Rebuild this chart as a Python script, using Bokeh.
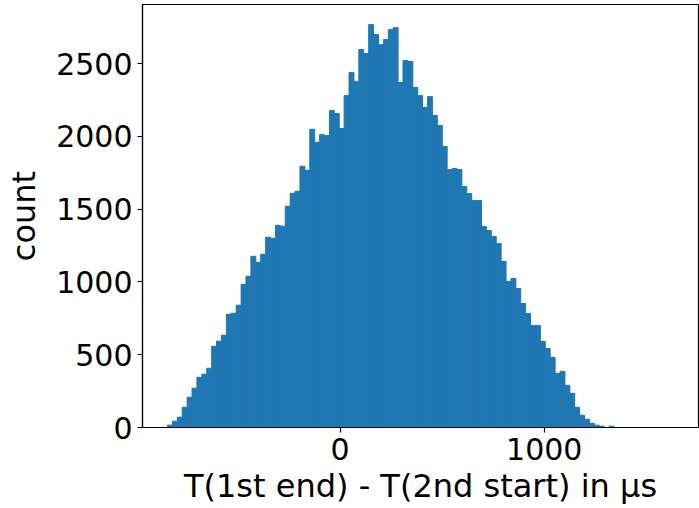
from bokeh.plotting import figure
from bokeh.models import Range1d, FixedTicker, ColumnDataSource
from bokeh.embed import file_html
from bokeh.resources import INLINE

# histogram data
bin_start = -844.6      # µs, left edge of first bin
bin_width = 24.02       # µs
counts = [16, 43, 71, 139, 208, 270, 345, 366, 407, 558,
          593, 634, 778, 785, 840, 984, 1039, 1176, 1135, 1190,
          1307, 1300, 1389, 1383, 1520, 1609, 1623, 1795, 1767, 2049,
          1959, 2012, 2005, 2177, 2157, 2054, 2280, 2438, 2376, 2596,
          2569, 2768, 2699, 2630, 2665, 2733, 2747, 2370, 2521, 2514,
          2335, 2280, 2198, 2273, 2143, 2074, 1930, 1772, 1779, 1772,
          1655, 1607, 1559, 1559, 1380, 1353, 1312, 1264, 1140, 1003,
          1023, 955, 852, 783, 700, 700, 591, 543, 481, 372,
          386, 290, 235, 139, 84, 57, 29, 16, 9, 0,
          9]
x_ticks = [0, 1000]
y_ticks = [0, 500, 1000, 1500, 2000, 2500]
x_label = "T(1st end) - T(2nd start) in µs"
y_label = "count"

left = [bin_start + i * bin_width for i in range(len(counts))]
right = [l + bin_width for l in left]
src = ColumnDataSource(dict(left=left, right=right, top=counts, bottom=[0] * len(counts)))

p = figure(width=699, height=508, output_backend="svg", toolbar_location=None,
           x_range=Range1d(-967, 1755), y_range=Range1d(0, 2906),
           min_border_left=142, min_border_right=1, min_border_top=4, min_border_bottom=81)

p.quad(left="left", right="right", top="top", bottom="bottom", source=src,
       fill_color="#1f77b4", line_color="#1f77b4", line_width=1)

p.xgrid.visible = False
p.ygrid.visible = False
p.outline_line_color = "black"
p.outline_line_width = 1.2
p.outline_line_alpha = 1

for ax in (p.xaxis[0], p.yaxis[0]):
    ax.axis_line_color = "black"
    ax.axis_line_width = 1.2
    ax.major_tick_line_color = "black"
    ax.major_tick_line_width = 1.2
    ax.major_tick_out = 5
    ax.major_tick_in = 0
    ax.minor_tick_line_color = None
    ax.major_label_text_font = "DejaVu Sans"
    ax.major_label_text_font_size = "30px"
    ax.major_label_text_color = "black"
    ax.major_label_standoff = 5
    ax.axis_label_text_font = "DejaVu Sans"
    ax.axis_label_text_font_size = "32px"
    ax.axis_label_text_font_style = "normal"
    ax.axis_label_text_color = "black"

p.xaxis.ticker = FixedTicker(ticks=x_ticks)
p.yaxis.ticker = FixedTicker(ticks=y_ticks)
p.xaxis.axis_label = x_label
p.yaxis.axis_label = y_label
p.xaxis.axis_label_standoff = 4
p.yaxis.axis_label_standoff = 10

open("out.html", "w").write(file_html(p, INLINE))
